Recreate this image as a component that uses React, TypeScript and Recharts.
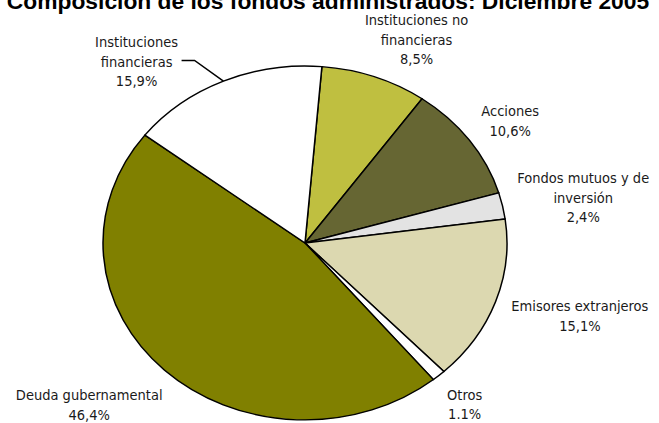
import { PieChart, Pie, Cell, Sector } from 'recharts';

const categories = [
  'Instituciones no financieras',
  'Acciones',
  'Fondos mutuos y de inversión',
  'Emisores extranjeros',
  'Otros',
  'Deuda gubernamental',
  'Instituciones financieras',
];
const values = [8.5, 10.6, 2.4, 15.1, 1.1, 46.4, 15.9];
const valueLabels = ['8,5%', '10,6%', '2,4%', '15,1%', '1.1%', '46,4%', '15,9%'];
const labelText = [
  ['Instituciones no', 'financieras'],
  ['Acciones'],
  ['Fondos mutuos y de', 'inversión'],
  ['Emisores extranjeros'],
  ['Otros'],
  ['Deuda gubernamental'],
  ['Instituciones', 'financieras'],
];
const colors = ['#BFBF40', '#666633', '#E3E3E3', '#DCD8B0', '#FFFFFF', '#808000', '#FFFFFF'];

// where each label block sits relative to its anchor just outside the pie
const labelShift = [
  [38, -27], [31, -13], [69, -6], [73, 11], [18, 21], [-67, 27], [-82, -10],
];

const SQUASH = 0.876;
const FONT = '"Liberation Sans Narrow", "DejaVu Sans Condensed", "Liberation Sans", sans-serif';

const data = categories.map((name, i) => ({ name, value: values[i] }));

const EllipseSector = (props: any) => {
  const { cx, cy } = props;
  return (
    <g transform={`translate(${cx} ${cy}) scale(1 ${SQUASH}) translate(${-cx} ${-cy})`}>
      <Sector {...props} stroke="#000" strokeWidth={1.5} />
    </g>
  );
};

const renderLabel = (props: any) => {
  const { cx, cy, midAngle, outerRadius, index } = props;
  const rad = (midAngle * Math.PI) / 180;
  const R = outerRadius + 12;
  const ax = cx + R * Math.cos(rad);
  const ay = cy - R * Math.sin(rad) * SQUASH;
  const x = ax + labelShift[index][0];
  const y = ay + labelShift[index][1];
  const lines = [...labelText[index], valueLabels[index]];
  const lh = 19.5;
  const top = y - ((lines.length - 1) * lh) / 2;
  let leader = null;
  if (index === 6) {
    const ex = cx + outerRadius * Math.cos(rad);
    const ey = cy - outerRadius * Math.sin(rad) * SQUASH;
    const ly = top + lh - 1;
    leader = (
      <polyline
        points={`${x + 45},${ly} ${x + 58},${ly} ${ex},${ey}`}
        fill="none"
        stroke="#000"
        strokeWidth={1.5}
      />
    );
  }
  return (
    <g>
      {leader}
      <text textAnchor="middle" fontFamily={FONT} fontSize={14.5} fill="#1a1a1a">
        {lines.map((l, i) => (
          <tspan key={i} x={x} y={top + i * lh + 5}>
            {l}
          </tspan>
        ))}
      </text>
    </g>
  );
};

export default function App() {
  return (
    <div style={{ position: 'absolute', left: 0, top: 0, width: 659, height: 423, background: '#fff', overflow: 'hidden' }}>
      <PieChart width={659} height={423} margin={{ top: 0, right: 0, bottom: 0, left: 0 }}>
        <text x={328} y={9} textAnchor="middle" fontFamily='"Liberation Sans", Arial, sans-serif' fontWeight="bold" fontSize={22.8} fill="#000">
          Composición de los fondos administrados: Diciembre 2005
        </text>
        <Pie
          data={data}
          dataKey="value"
          nameKey="name"
          cx={305}
          cy={243}
          outerRadius={202}
          startAngle={85.2}
          endAngle={-274.8}
          stroke="#000"
          strokeWidth={1.5}
          isAnimationActive={false}
          shape={EllipseSector}
          activeShape={EllipseSector}
          inactiveShape={EllipseSector}
          label={renderLabel}
          labelLine={false}
        >
          {data.map((d, i) => (
            <Cell key={d.name} fill={colors[i]} />
          ))}
        </Pie>
      </PieChart>
    </div>
  );
}
